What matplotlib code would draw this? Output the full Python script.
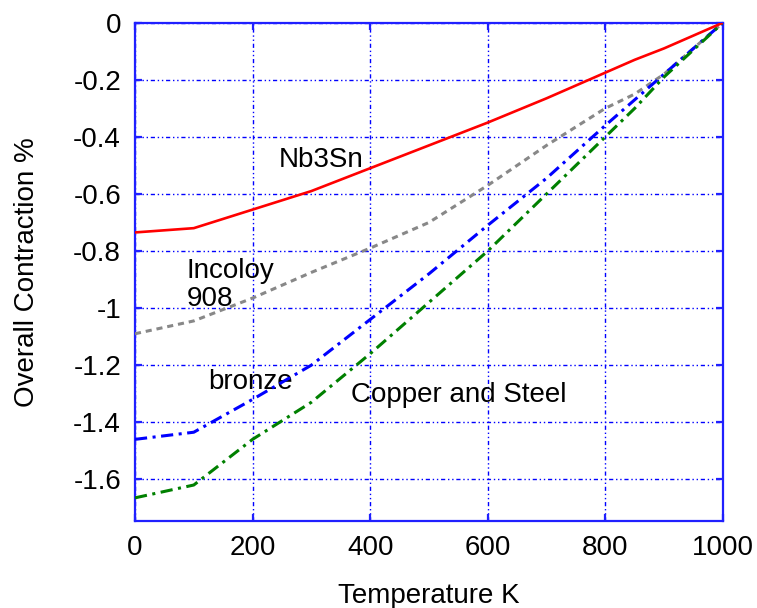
import matplotlib
matplotlib.use("Agg")
import matplotlib.pyplot as plt

# -------------------------------
# Data
# -------------------------------
temp = [0, 100, 200, 300, 400, 500, 600, 700, 800, 850, 900, 950, 1000]

nb3sn = [-0.735, -0.72, -0.655, -0.59, -0.51, -0.43, -0.35, -0.265, -0.175, -0.13, -0.09, -0.045, 0.0]
incoloy = [-1.09, -1.045, -0.965, -0.875, -0.79, -0.70, -0.57, -0.43, -0.30, -0.25, -0.18, -0.09, 0.0]
bronze = [-1.46, -1.435, -1.32, -1.20, -1.04, -0.88, -0.71, -0.545, -0.36, -0.27, -0.18, -0.09, 0.0]
copper = [-1.665, -1.62, -1.46, -1.33, -1.16, -0.98, -0.80, -0.60, -0.40, -0.30, -0.19, -0.095, 0.0]

xticks = [0, 200, 400, 600, 800, 1000]
yticks = [0, -0.2, -0.4, -0.6, -0.8, -1.0, -1.2, -1.4, -1.6]
ytick_labels = ["0", "-0.2", "-0.4", "-0.6", "-0.8", "-1", "-1.2", "-1.4", "-1.6"]

# -------------------------------
# Plot
# -------------------------------
plt.rcParams["font.family"] = ["Liberation Sans", "DejaVu Sans"]
plt.rcParams["axes.unicode_minus"] = False

fig = plt.figure(figsize=(7.57, 6.08), dpi=100)
ax = fig.add_axes([0.1783, 0.1436, 0.7767, 0.8191])

frame = "#2020ff"
fs = 20
ax.plot(temp, nb3sn, color="#ff0000", lw=1.9, zorder=5)
ax.plot(temp, incoloy, color="#888888", lw=2.2, linestyle=(0, (2, 1.6)), zorder=4)
ax.plot(temp, bronze, color="#0000ff", lw=2.2, linestyle=(0, (4, 1.8, 1, 1.8)), zorder=4)
ax.plot(temp, copper, color="#008000", lw=2.2, linestyle=(0, (4, 1.8, 1, 1.8)), zorder=4)

ax.set_xlim(0, 1000)
ax.set_ylim(-1.745, 0)
ax.set_xticks(xticks)
ax.set_yticks(yticks)
ax.set_yticklabels(ytick_labels)

ax.grid(True, color="#0000ff", lw=1.0, linestyle=(0, (3, 2, 1, 2, 1, 2)))
for s in ax.spines.values():
    s.set_color(frame)
    s.set_linewidth(1.6)

ax.tick_params(direction="in", length=5, width=1.6, color=frame,
               top=True, right=True, labelsize=fs, pad=10)

ax.set_xlabel("Temperature K", fontsize=fs, labelpad=16)
ax.set_ylabel("Overall Contraction %", fontsize=fs, labelpad=24)

ax.text(317, -0.48, "Nb3Sn", fontsize=fs, ha="center", va="center")
ax.text(88, -0.92, "Incoloy\n908", fontsize=fs, ha="left", va="center", linespacing=1.1)
ax.text(196, -1.26, "bronze", fontsize=fs, ha="center", va="center")
ax.text(550, -1.305, "Copper and Steel", fontsize=fs, ha="center", va="center")

fig.savefig("out.png", dpi=100)
